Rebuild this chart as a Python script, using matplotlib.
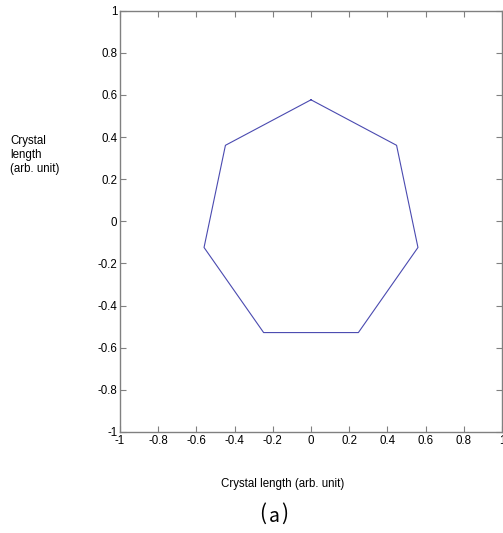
import matplotlib
matplotlib.use("Agg")
import matplotlib.pyplot as plt

# Heptagon vertex coordinates, closed polygon
x_vals = [0.0, 0.448, 0.560, 0.248, -0.248, -0.560, -0.448, 0.0]
y_vals = [0.577, 0.361, -0.124, -0.528, -0.528, -0.124, 0.361, 0.577]

x_ticks = [-1, -0.8, -0.6, -0.4, -0.2, 0, 0.2, 0.4, 0.6, 0.8, 1]
y_ticks = [-1, -0.8, -0.6, -0.4, -0.2, 0, 0.2, 0.4, 0.6, 0.8, 1]
tick_labels = ["-1", "-0.8", "-0.6", "-0.4", "-0.2", "0", "0.2", "0.4", "0.6", "0.8", "1"]

plt.rcParams['font.family'] = ['Liberation Sans', 'DejaVu Sans']

fig = plt.figure(figsize=(5.03, 5.33), dpi=100)
ax = fig.add_axes([120/503, 1 - 432/533, (502 - 120)/503, (432 - 10.7)/533])

ax.plot(x_vals, y_vals, color='#4a4ab0', linewidth=0.8)

ax.set_xlim(-1, 1)
ax.set_ylim(-1, 1)
ax.set_xticks(x_ticks)
ax.set_yticks(y_ticks)
ax.set_xticklabels(tick_labels)
ax.set_yticklabels(tick_labels)
ax.tick_params(direction='in', top=True, right=True, length=4, width=0.8,
               colors='#808080', labelcolor='black', labelsize=8.3, pad=2)
for s in ax.spines.values():
    s.set_color('#808080')
    s.set_linewidth(1.0)

fig.text(283/503, 1 - 484/533, "Crystal length (arb. unit)", ha='center', va='center',
         fontsize=8.3)
fig.text(10/503, 1 - 155/533, "Crystal\nlength\n(arb. unit)", ha='left', va='center',
         fontsize=8.3, linespacing=1.25)

cjk = ['Noto Sans CJK KR', 'DejaVu Sans']
fig.text(263/503, 1 - 514/533, "(", ha='center', va='center', fontsize=15, family=cjk)
fig.text(274/503, 1 - 516/533, "a", ha='center', va='center', fontsize=14, family=cjk)
fig.text(285/503, 1 - 514/533, ")", ha='center', va='center', fontsize=15, family=cjk)

fig.savefig("out.png", dpi=100)
